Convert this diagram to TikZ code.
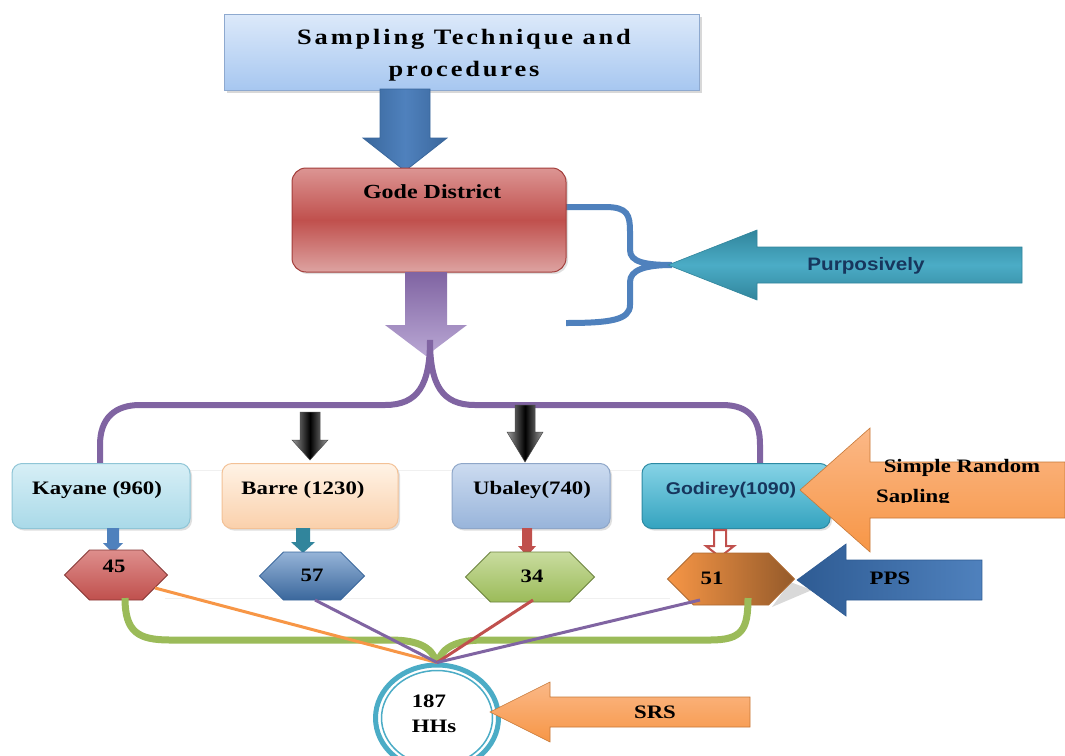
\documentclass[tikz,border=0pt]{standalone}
\usepackage{fontspec}
\setmainfont{Liberation Serif}[FakeStretch=1.2]
\newfontfamily\sansb{Liberation Sans}[FakeStretch=1.15]
\usetikzlibrary{shapes.geometric,shapes.symbols,shadows}
\definecolor{titletop}{HTML}{DCE9FA}
\definecolor{titlebot}{HTML}{A7C7F0}
\definecolor{titledraw}{HTML}{8EA9CF}
\definecolor{godetop}{HTML}{DC9593}
\definecolor{godemid}{HTML}{C0504D}
\definecolor{godebot}{HTML}{DDA3A1}
\definecolor{godedraw}{HTML}{A33D3A}
\definecolor{blueA}{HTML}{4F81BD}
\definecolor{blueD}{HTML}{3A679C}
\definecolor{purp}{HTML}{8064A2}
\definecolor{purpL}{HTML}{B9A7D4}
\definecolor{kaytop}{HTML}{D7EFF6}
\definecolor{kaybot}{HTML}{A9D9E8}
\definecolor{kaydraw}{HTML}{8FC5D6}
\definecolor{bartop}{HTML}{FFF3E6}
\definecolor{barbot}{HTML}{FAD0AB}
\definecolor{bardraw}{HTML}{F3C196}
\definecolor{ubatop}{HTML}{CCDBF0}
\definecolor{ubabot}{HTML}{98B4DA}
\definecolor{ubadraw}{HTML}{8EA6C8}
\definecolor{goditop}{HTML}{86D3E6}
\definecolor{godibot}{HTML}{34A3BF}
\definecolor{godidraw}{HTML}{2C8AA3}
\definecolor{tealA}{HTML}{4BACC6}
\definecolor{tealD}{HTML}{31859C}
\definecolor{orA}{HTML}{F79646}
\definecolor{orL}{HTML}{FBB887}
\definecolor{redA}{HTML}{C0504D}
\definecolor{redL}{HTML}{DE8E8C}
\definecolor{greenA}{HTML}{9BBB59}
\definecolor{greenL}{HTML}{C9DC9F}
\definecolor{ppsD}{HTML}{2E5B93}
\definecolor{navy}{HTML}{17365D}
\newcommand\DArr[7]{\path[#7] ({#1-#5},#2) -- ({#1+#5},#2) -- ({#1+#5},#3) -- ({#1+#6},#3) -- (#1,#4) -- ({#1-#6},#3) -- ({#1-#5},#3) -- cycle;}
\newcommand\LArr[7]{\path[#7] (#1,#2) -- (#3,{#2-#6}) -- (#3,{#2-#5}) -- (#4,{#2-#5}) -- (#4,{#2+#5}) -- (#3,{#2+#5}) -- (#3,{#2+#6}) -- cycle;}
\begin{document}
\begin{tikzpicture}[x=1pt,y=-1pt,
  every node/.style={font=\bfseries\fontsize{19}{22}\selectfont, inner sep=0pt},
  box/.style={rounded corners=10pt, draw, line width=1pt,
    drop shadow={opacity=0.25,shadow xshift=2pt,shadow yshift=-2pt}},
  hexa/.style={signal, signal to=west and east, signal pointer angle=90, draw, line width=0.8pt},
  thinline/.style={line width=3pt},
  faint/.style={draw=gray!12, line width=0.8pt}]
\useasboundingbox (0,0) rectangle (1065,755);
\fill[white] (0,0) rectangle (1065,755);
% faint guide lines
\draw[faint] (190,470) -- (645,470);
\draw[faint] (165,598) -- (670,598);
% title
\node[draw=titledraw, line width=1pt, top color=titletop, bottom color=titlebot,
  minimum width=475, minimum height=76,
  drop shadow={opacity=0.3,shadow xshift=2pt,shadow yshift=-3pt}] (title) at (462,52) {};
\node[align=center, font=\bfseries\fontsize{22}{32}\selectfont\addfontfeature{LetterSpace=13}] (titlet) at (464,55) {Sampling Technique and\\procedures};
% blue arrow
\DArr{405}{89}{138}{171}{25}{42}{left color=blueD, right color=blueD, middle color=blueA, draw=blueD, line width=0.8pt}
% blue bracket
\draw[blueA, line width=6pt] (566,207) -- (605,207) .. controls (628,207) and (630,215) .. (630,232) -- (630,250)
  .. controls (630,262) and (645,265) .. (672,265) .. controls (645,265) and (630,270) .. (630,282)
  -- (630,305) .. controls (630,320) and (610,323) .. (566,323);
% Gode district
\node[box, rounded corners=14pt, draw=godedraw, minimum width=274, minimum height=104,
  top color=godetop, bottom color=godebot, middle color=godemid] (gode) at (429,220) {};
\node[font=\bfseries\fontsize{20}{22}\selectfont] (godet) at (432,192) {Gode District};
% purposively arrow
\LArr{668}{265}{757}{1022}{18}{35}{top color=tealD, bottom color=tealD, middle color=tealA, draw=tealD, line width=0.6pt}
\node[font=\sansb\bfseries\fontsize{18}{20}\selectfont, text=navy] (purp) at (866,266) {Purposively};
% purple arrow
\DArr{426}{272}{325}{356}{21}{41}{top color=purp, bottom color=purpL}
% purple brace
\draw[purp, line width=6pt] (100,465) -- (100,445) .. controls (100,418) and (115,405) .. (140,405) -- (385,405)
  .. controls (418,405) and (430,385) .. (430,340) .. controls (430,385) and (442,405) .. (475,405)
  -- (722,405) .. controls (750,405) and (760,420) .. (760,445) -- (760,465);
% black arrows
\DArr{310}{412}{440}{460}{10}{18}{left color=gray!80, right color=gray!80, middle color=black, draw=black!70, line width=0.5pt}
\DArr{525}{405}{432}{462}{10}{18}{left color=gray!80, right color=gray!80, middle color=black, draw=black!70, line width=0.5pt}
% district boxes
\node[box, draw=kaydraw, top color=kaytop, bottom color=kaybot, minimum width=178, minimum height=65] (kay) at (101,496) {};
\node (kayt) at (97,490) {Kayane (960)};
\node[box, draw=bardraw, top color=bartop, bottom color=barbot, minimum width=176, minimum height=65] (bar) at (310,496) {};
\node (bart) at (303,490) {Barre (1230)};
\node[box, draw=ubadraw, top color=ubatop, bottom color=ubabot, minimum width=158, minimum height=65] (uba) at (531,496) {};
\node (ubat) at (532,490) {Ubaley(740)};
\node[box, draw=godidraw, top color=goditop, bottom color=godibot, minimum width=188, minimum height=65] (godi) at (736,496) {};
\node[font=\sansb\bfseries\fontsize{17}{20}\selectfont, text=navy] (godit) at (731,490) {Godirey(1090)};
% simple random sampling arrow
\LArr{800}{490}{870}{1065}{28}{62}{top color=orL, bottom color=orA, draw=orA!80!black, line width=0.6pt}
\node (srs1) at (962,468) {Simple Random};
\begin{scope}
\clip (860,440) rectangle (1065,502);
\node[anchor=base west] (srs2) at (876,502) {Sapling};
\end{scope}
% small arrows
\DArr{113}{528}{543}{553}{6}{10}{fill=blueA}
\DArr{303}{528}{542}{553}{7}{12}{fill=tealD}
\DArr{527}{528}{546}{556}{5}{9}{fill=redA}
\DArr{720}{530}{546}{557}{6}{14}{fill=white, draw=redA, line width=2pt}
% hexagons
\node[hexa, draw=redA!70!black, top color=redL, bottom color=redA, minimum width=103, minimum height=50] (h45) at (116,575) {};
\node (t45) at (114,566) {45};
\node[hexa, draw=blueD, top color=blueA!60, bottom color=blueD, minimum width=105, minimum height=48] (h57) at (312,576) {};
\node (t57) at (312,575) {57};
\node[hexa, draw=greenA!70!black, top color=greenL, bottom color=greenA, minimum width=129, minimum height=50] (h34) at (530,577) {};
\node (t34) at (532,576) {34};
\fill[gray!30] (790,582) -- (812,590) -- (772,607) -- cycle;
\node[hexa, draw=orA!70!black, left color=orA, right color=orA!60!black, minimum width=127, minimum height=52] (h51) at (731,579) {};
\node (t51) at (712,578) {51};
% PPS arrow
\LArr{797}{580}{846}{982}{20}{36}{left color=ppsD, right color=blueA, draw=ppsD, line width=0.6pt}
\node (ppst) at (890,578) {PPS};
% green brace
\draw[greenA, line width=7pt] (125,598) .. controls (125,632) and (138,640) .. (170,640) -- (390,640)
  .. controls (420,640) and (434,648) .. (437,666) .. controls (440,648) and (455,640) .. (484,640)
  -- (710,640) .. controls (742,640) and (748,630) .. (748,598);
% circle
\node[ellipse, draw=tealA, line width=5pt, fill=white, minimum width=123, minimum height=106] (hh) at (437,718) {};
\node[ellipse, draw=tealA, line width=1.5pt, minimum width=111, minimum height=95] (hhin) at (437,718) {};
\node[align=left, font=\bfseries\fontsize{19}{25}\selectfont] (hht) at (434,714) {187\\HHs};
% connectors from hexagons
\coordinate (c45) at (155,588);
\coordinate (c57) at (315,600);
\coordinate (c34) at (533,600);
\coordinate (c51) at (700,600);
\draw[thinline, orA] (c45) -- (hh.north);
\draw[thinline, purp] (c57) -- (hh.north);
\draw[thinline, redA] (c34) -- (hh.north);
\draw[thinline, purp] (c51) -- (hh.north);
% SRS arrow
\LArr{490}{712}{550}{750}{15}{30}{top color=orL, bottom color=orA, draw=orA!80!black, line width=0.6pt}
\node (srst) at (655,712) {SRS};
\end{tikzpicture}
\end{document}
